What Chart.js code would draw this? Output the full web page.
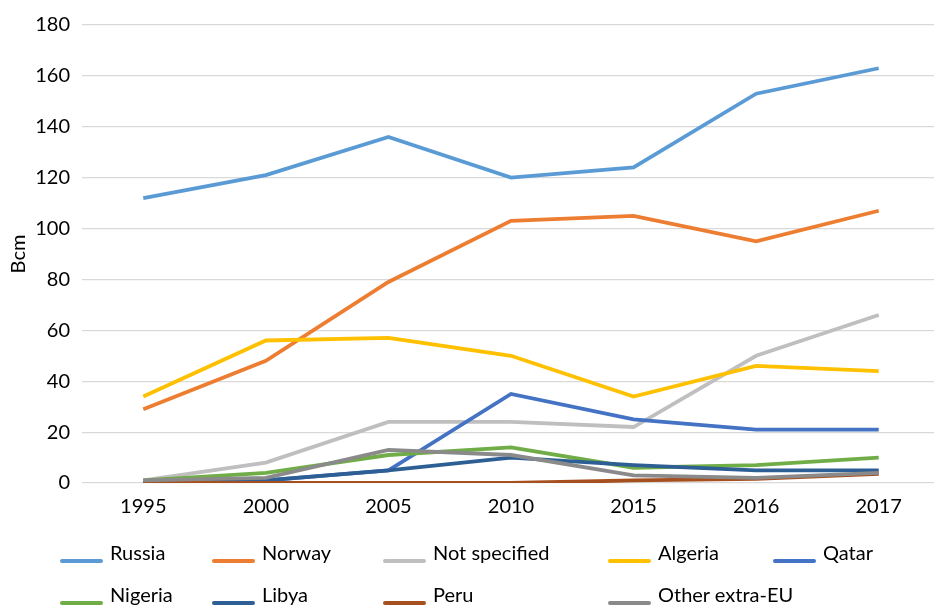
<!DOCTYPE html>
<html>
<head>
<meta charset="utf-8">
<script src="https://cdn.jsdelivr.net/npm/chart.js@4"></script>
<style>
    html, body { margin: 0; padding: 0; background: #fff; overflow: hidden; }
    #wrap { position: relative; width: 934px; height: 606px; overflow: hidden; }
    #chartBox { position: absolute; left: 0; top: 0; width: 940px; height: 523px; }
    #legend { position: absolute; left: 0; top: 0; width: 934px; height: 606px; pointer-events: none; }
    .item { position: absolute; font-family: Lato, sans-serif; font-size: 20px; line-height: 20px; color: #000; white-space: nowrap; }
    .item span.swatch { position: absolute; left: 0; top: 17px; width: 43px; height: 4px; border-radius: 2px; }
    .item span.label { position: absolute; left: 50px; top: 0; }
</style>
</head>
<body>
<div id="wrap">
    <div id="chartBox"><canvas id="gasChart"></canvas></div>
    <div id="legend"></div>
</div>
<script>
const years = ['1995', '2000', '2005', '2010', '2015', '2016', '2017'];

const russia       = [112, 121, 136, 120, 124, 153, 163];
const norway       = [29, 48, 79, 103, 105, 95, 107];
const notSpecified = [1, 8, 24, 24, 22, 50, 66];
const algeria      = [34, 56, 57, 50, 34, 46, 44];
const qatar        = [0, 1, 5, 35, 25, 21, 21];
const nigeria      = [1, 4, 11, 14, 6, 7, 10];
const libya        = [0, 1, 5, 10, 7, 5, 5];
const peru         = [0, 0, 0, 0, 1, 1.6, 3.6];
const otherExtraEU = [1, 2, 13, 11, 3, 2, 4];

const seriesNames  = ['Russia', 'Norway', 'Not specified', 'Algeria', 'Qatar', 'Nigeria', 'Libya', 'Peru', 'Other extra-EU'];
const seriesValues = [russia, norway, notSpecified, algeria, qatar, nigeria, libya, peru, otherExtraEU];
const seriesColors = ['#5B9BD5', '#ED7D31', '#BFBFBF', '#FFC000', '#4472C4', '#70AD47', '#2E5F94', '#A5501E', '#8A8A8A'];

const yTicks = [0, 20, 40, 60, 80, 100, 120, 140, 160, 180];

// legend 자리 (Excel 범례처럼 열 맞춤)
const legendCols = [60, 212, 383, 608, 773];
const legendRows = [542, 584];

document.addEventListener("DOMContentLoaded", () => {
    initializeChart();
    buildLegend();
});

function initializeChart() {
    const ctx = document.getElementById('gasChart').getContext('2d');
    const n = seriesNames.length;
    new Chart(ctx, {
        type: 'line',
        data: {
            labels: years,
            datasets: seriesNames.map((name, i) => ({
                label: name,
                data: seriesValues[i],
                borderColor: seriesColors[i],
                backgroundColor: seriesColors[i],
                borderWidth: 3.8,
                pointRadius: 0,
                fill: false,
                tension: 0,
                order: n - i  // 뒤 시리즈가 위에 그려지도록
            }))
        },
        options: {
            responsive: true,
            maintainAspectRatio: false,
            animation: false,
            layout: {padding: {top: 25, right: 0, bottom: 0, left: 0}},
            plugins: {legend: {display: false}, tooltip: {enabled: false}},
            scales: {
                x: {
                    type: 'category',
                    offset: true,
                    grid: {display: false},
                    border: {display: false},
                    ticks: {color: '#000', font: {family: 'Lato', size: 20}, padding: 4}
                },
                y: {
                    min: 0,
                    max: 180,
                    afterFit: (scale) => { scale.width = 82; },
                    afterBuildTicks: (scale) => { scale.ticks = yTicks.map(v => ({value: v})); },
                    grid: {color: '#D9D9D9', lineWidth: 1.2, drawTicks: false},
                    border: {display: false},
                    ticks: {color: '#000', font: {family: 'Lato', size: 20}, padding: 12},
                    title: {display: true, text: 'Bcm', color: '#000', font: {family: 'Lato', size: 20}, padding: {top: 7, bottom: 0}}
                }
            }
        }
    });
}

function buildLegend() {
    const box = document.getElementById('legend');
    seriesNames.forEach((name, i) => {
        const row = i < 5 ? 0 : 1;
        const col = i < 5 ? i : (i === 8 ? 3 : i - 5);
        const item = document.createElement('div');
        item.className = 'item';
        item.style.left = legendCols[col] + 'px';
        item.style.top = legendRows[row] + 'px';
        item.innerHTML = `<span class="swatch" style="background:${seriesColors[i]}"></span><span class="label">${name}</span>`;
        box.appendChild(item);
    });
}
</script>
</body>
</html>
